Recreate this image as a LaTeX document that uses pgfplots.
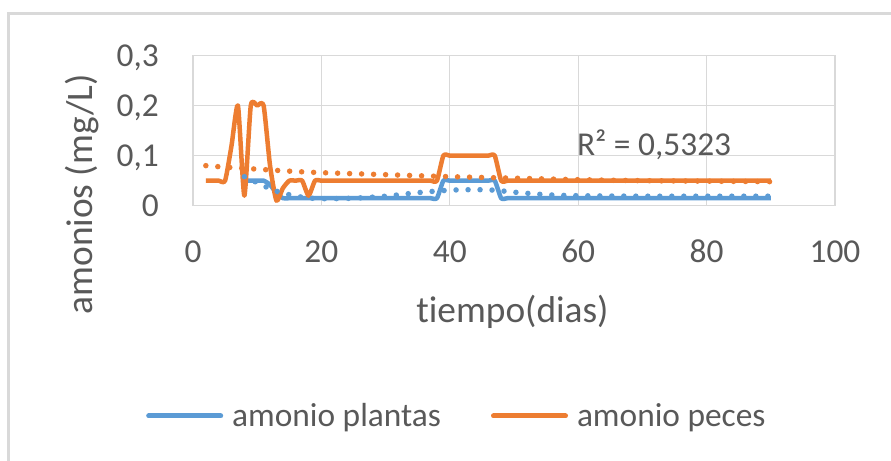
\documentclass[border=0pt]{standalone}
\usepackage{fontspec}
\setmainfont{Carlito}[Ligatures=NoCommon]
\usepackage{pgfplots}
\usepackage{pgfplotstable}
\pgfplotsset{compat=1.18}
\definecolor{xlblue}{HTML}{5B9BD5}
\definecolor{xlorange}{HTML}{ED7D31}
\definecolor{xlgrid}{HTML}{D9D9D9}
\definecolor{xltext}{HTML}{595959}
\definecolor{xlframe}{HTML}{D9D9D9}

\pgfplotstableread{
x y
2 0.05
3 0.05
4 0.05
5 0.05
6 0.12
7 0.2
8 0.02
9 0.2
10 0.2
11 0.2
12 0.08
13 0.01
14 0.035
15 0.05
16 0.05
17 0.05
18 0.02
19 0.05
20 0.05
21 0.05
22 0.05
23 0.05
24 0.05
25 0.05
26 0.05
27 0.05
28 0.05
29 0.05
30 0.05
31 0.05
32 0.05
33 0.05
34 0.05
35 0.05
36 0.05
37 0.05
38 0.05
39 0.1
40 0.1
41 0.1
42 0.1
43 0.1
44 0.1
45 0.1
46 0.1
47 0.1
48 0.05
49 0.05
50 0.05
51 0.05
52 0.05
53 0.05
54 0.05
55 0.05
56 0.05
57 0.05
58 0.05
59 0.05
60 0.05
61 0.05
62 0.05
63 0.05
64 0.05
65 0.05
66 0.05
67 0.05
68 0.05
69 0.05
70 0.05
71 0.05
72 0.05
73 0.05
74 0.05
75 0.05
76 0.05
77 0.05
78 0.05
79 0.05
80 0.05
81 0.05
82 0.05
83 0.05
84 0.05
85 0.05
86 0.05
87 0.05
88 0.05
89 0.05
90 0.05
}\peces

\pgfplotstableread{
x y
8 0.05
9 0.05
10 0.05
11 0.05
12 0.042
13 0.025
14 0.015
15 0.015
16 0.015
17 0.015
18 0.015
19 0.015
20 0.015
21 0.015
22 0.015
23 0.015
24 0.015
25 0.015
26 0.015
27 0.015
28 0.015
29 0.015
30 0.015
31 0.015
32 0.015
33 0.015
34 0.015
35 0.015
36 0.015
37 0.015
38 0.015
39 0.05
40 0.05
41 0.05
42 0.05
43 0.05
44 0.05
45 0.05
46 0.05
47 0.05
48 0.015
49 0.015
50 0.015
51 0.015
52 0.015
53 0.015
54 0.015
55 0.015
56 0.015
57 0.015
58 0.015
59 0.015
60 0.015
61 0.015
62 0.015
63 0.015
64 0.015
65 0.015
66 0.015
67 0.015
68 0.015
69 0.015
70 0.015
71 0.015
72 0.015
73 0.015
74 0.015
75 0.015
76 0.015
77 0.015
78 0.015
79 0.015
80 0.015
81 0.015
82 0.015
83 0.015
84 0.015
85 0.015
86 0.015
87 0.015
88 0.015
89 0.015
90 0.015
}\plantas

\pgfplotstableread{
x y
2 0.080
5 0.077
10 0.073
15 0.069
20 0.066
30 0.062
40 0.058
50 0.055
60 0.052
70 0.050
80 0.049
90 0.048
}\trendpeces

\pgfplotstableread{
x y
8 0.058
10 0.046
12 0.034
14 0.025
17 0.017
20 0.014
25 0.015
30 0.019
35 0.026
40 0.031
44 0.032
47 0.031
50 0.027
55 0.022
60 0.020
70 0.019
80 0.019
90 0.019
}\trendplantas

\begin{document}
\begin{tikzpicture}
\useasboundingbox (0,0) rectangle (891bp,461bp);
\fill[white] (0,0) rectangle (891bp,461bp);
\draw[xlframe, line width=2.5bp] (8.3bp,-10bp) -- (8.3bp,447.7bp) -- (900bp,447.7bp);
\begin{axis}[
  at={(193bp,255.3bp)}, anchor=south west,
  scale only axis, width=642bp, height=150.2bp,
  xmin=0, xmax=100, ymin=0, ymax=0.3,
  xtick={0,20,40,60,80,100}, ytick={0,0.1,0.2,0.3},
  grid=major, major grid style={xlgrid, line width=1.3bp},
  axis line style={xlgrid, line width=1.3bp},
  major tick length=0pt,
  /pgf/number format/assume math mode=true,
  tick label style={font=\fontsize{33.5}{40}\selectfont, text=xltext},
  yticklabel style={/pgf/number format/.cd, use comma, fixed, /tikz/.cd, anchor=base east, inner sep=0pt, xshift=-34bp, yshift=-10.6bp},
  xticklabel style={anchor=base, inner sep=0pt, yshift=-57bp},
  xlabel={tiempo(dias)},
  xlabel style={at={(rel axis cs:0.4977,-0.7743)}, anchor=base, inner sep=0pt, font=\fontsize{37.5}{45}\selectfont, text=xltext},
  ylabel={amonios (mg/L)},
  ylabel style={at={(rel axis cs:-0.1558,0.075)}, anchor=base, inner sep=0pt, font=\fontsize{37.5}{45}\selectfont, text=xltext},
  legend columns=2,
  legend style={at={(rel axis cs:-0.0732,-1.40)}, anchor=west, draw=none, fill=none, inner sep=0pt,
     font=\fontsize{33.5}{40}\selectfont, text=xltext,
     nodes={inner sep=0pt},
     /tikz/every odd column/.style={column sep=9bp},
     /tikz/every even column/.style={column sep=50bp}},
  legend image code/.code={\draw[#1, line width=5bp, line cap=round] (2.5bp,0bp) -- (74.5bp,0bp);},
]
\addplot[xlblue, line width=4.5bp, smooth, tension=0.35, line join=round] table[x=x,y=y] {\plantas};
\addlegendentry{amonio plantas}
\addplot[xlorange, line width=4.5bp, smooth, tension=0.35, line join=round] table[x=x,y=y] {\peces};
\addlegendentry{amonio peces}
\addplot[forget plot, xlblue, line width=5.5bp, smooth, line cap=round, dash pattern=on 0bp off 12bp] table[x=x,y=y] {\trendplantas};
\addplot[forget plot, xlorange, line width=5.5bp, smooth, line cap=round, dash pattern=on 0bp off 12bp] table[x=x,y=y] {\trendpeces};
\node[anchor=base west, inner sep=0pt, font=\fontsize{33.5}{40}\selectfont, text=xltext] at (axis cs:59.8,0.1) {R² = 0,5323};
\end{axis}
\end{tikzpicture}
\end{document}
